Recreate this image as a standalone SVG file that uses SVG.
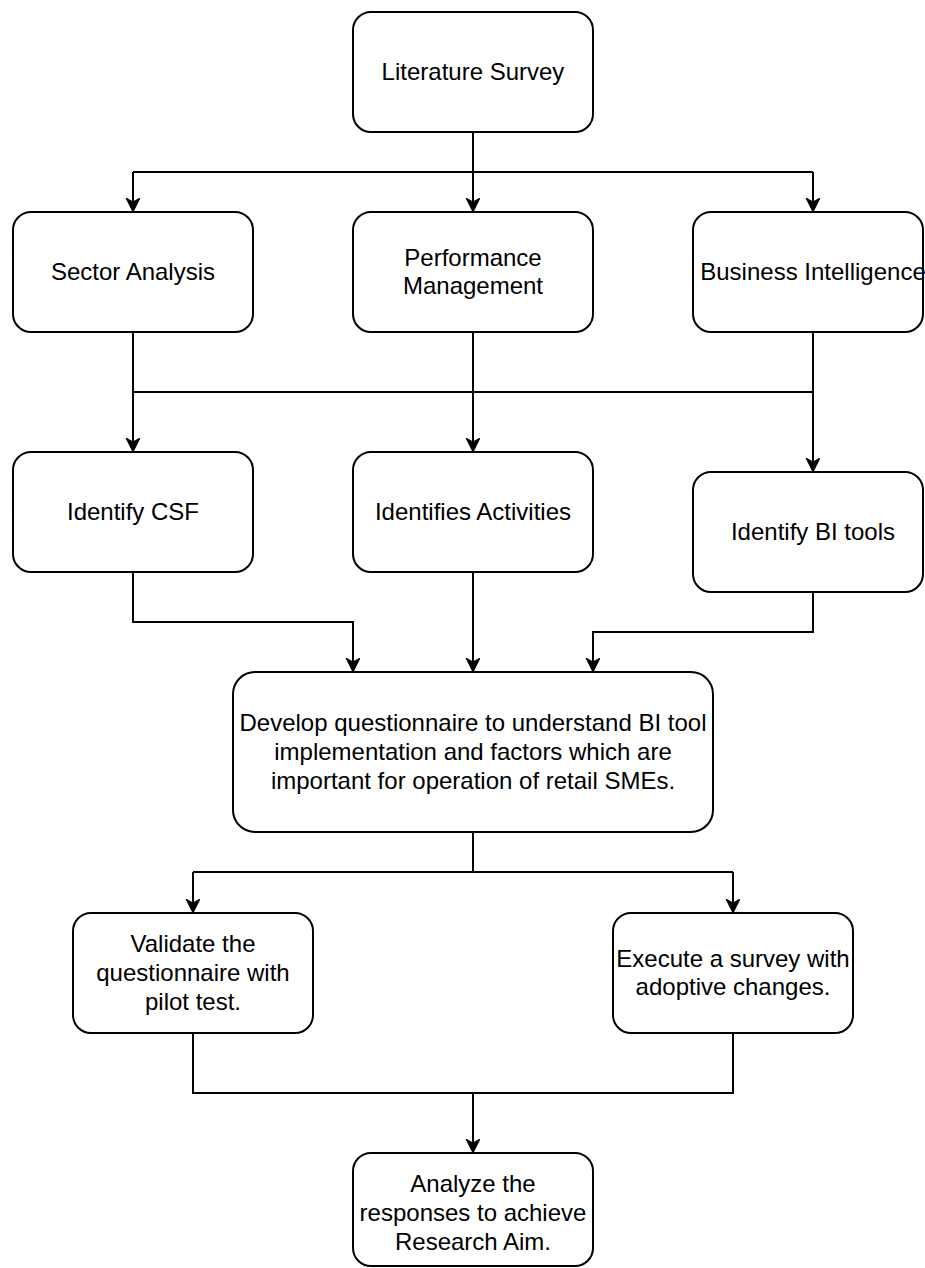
<svg xmlns="http://www.w3.org/2000/svg" width="925" height="1268" viewBox="0 0 925 1268">
  <style>
    .box { fill: #ffffff; stroke: #000000; stroke-width: 2; }
    .lbl { font-family: "Liberation Sans", Arial, Helvetica, sans-serif; font-size: 24px; fill: #000000; text-anchor: middle; }
    .edge { fill: none; stroke: #000000; stroke-width: 2; }
    .arrow { fill: none; stroke: #000000; stroke-width: 2; marker-end: url(#head); }
  </style>
  <defs>
    <marker id="head" markerUnits="userSpaceOnUse" markerWidth="16" markerHeight="16" refX="14" refY="7" orient="auto">
      <path d="M0,0 L14,7 L0,14 L4,7 Z" fill="#000000" stroke="#000000" stroke-width="1" stroke-linejoin="miter"/>
    </marker>
  </defs>
  <rect width="925" height="1268" fill="#ffffff"/>

  <!-- connectors -->
  <g id="connectors">
    <!-- literature survey fan-out -->
    <path class="edge" d="M473,132 V172 M133,172 H813"/>
    <path class="arrow" d="M133,172 V212"/>
    <path class="arrow" d="M473,172 V212"/>
    <path class="arrow" d="M813,172 V212"/>
    <!-- second row to third row -->
    <path class="edge" d="M133,332 V392 H813 M813,332 V392"/>
    <path class="arrow" d="M133,392 V452"/>
    <path class="arrow" d="M473,332 V452"/>
    <path class="arrow" d="M813,392 V472"/>
    <!-- third row into questionnaire -->
    <path class="arrow" d="M133,572 V622 H353 V672"/>
    <path class="arrow" d="M473,572 V672"/>
    <path class="arrow" d="M813,592 V632 H593 V672"/>
    <!-- questionnaire split -->
    <path class="edge" d="M473,832 V872 M193,872 H733"/>
    <path class="arrow" d="M193,872 V913"/>
    <path class="arrow" d="M733,872 V913"/>
    <!-- merge into analysis -->
    <path class="edge" d="M193,1033 V1093 H733 V1033"/>
    <path class="arrow" d="M473,1093 V1153"/>
  </g>

  <g id="literature-survey">
    <rect class="box" x="353" y="12" width="240" height="120" rx="18"/>
    <text class="lbl" x="473" y="80">Literature Survey</text>
  </g>

  <g id="sector-analysis">
    <rect class="box" x="13" y="212" width="240" height="120" rx="18"/>
    <text class="lbl" x="133" y="280">Sector Analysis</text>
  </g>

  <g id="performance-management">
    <rect class="box" x="353" y="212" width="240" height="120" rx="18"/>
    <text class="lbl" x="473" y="266">Performance</text>
    <text class="lbl" x="473" y="294">Management</text>
  </g>

  <g id="business-intelligence">
    <rect class="box" x="693" y="212" width="230" height="120" rx="18"/>
    <text class="lbl" x="813" y="280">Business Intelligence</text>
  </g>

  <g id="identify-csf">
    <rect class="box" x="13" y="452" width="240" height="120" rx="18"/>
    <text class="lbl" x="133" y="520">Identify CSF</text>
  </g>

  <g id="identifies-activities">
    <rect class="box" x="353" y="452" width="240" height="120" rx="18"/>
    <text class="lbl" x="473" y="520">Identifies Activities</text>
  </g>

  <g id="identify-bi-tools">
    <rect class="box" x="693" y="472" width="230" height="120" rx="18"/>
    <text class="lbl" x="813" y="540">Identify BI tools</text>
  </g>

  <g id="develop-questionnaire">
    <rect class="box" x="233" y="672" width="480" height="160" rx="22"/>
    <text class="lbl" x="473" y="731">Develop questionnaire to understand BI tool</text>
    <text class="lbl" x="473" y="760">implementation and factors which are</text>
    <text class="lbl" x="473" y="789">important for operation of retail SMEs.</text>
  </g>

  <g id="validate-questionnaire">
    <rect class="box" x="73" y="913" width="240" height="120" rx="18"/>
    <text class="lbl" x="193" y="952">Validate the</text>
    <text class="lbl" x="193" y="981">questionnaire with</text>
    <text class="lbl" x="193" y="1010">pilot test.</text>
  </g>

  <g id="execute-survey">
    <rect class="box" x="613" y="913" width="240" height="120" rx="18"/>
    <text class="lbl" x="733" y="967">Execute a survey with</text>
    <text class="lbl" x="733" y="995">adoptive changes.</text>
  </g>

  <g id="analyze-responses">
    <rect class="box" x="353" y="1153" width="240" height="113" rx="18"/>
    <text class="lbl" x="473" y="1192">Analyze the</text>
    <text class="lbl" x="473" y="1221">responses to achieve</text>
    <text class="lbl" x="473" y="1250">Research Aim.</text>
  </g>
</svg>
